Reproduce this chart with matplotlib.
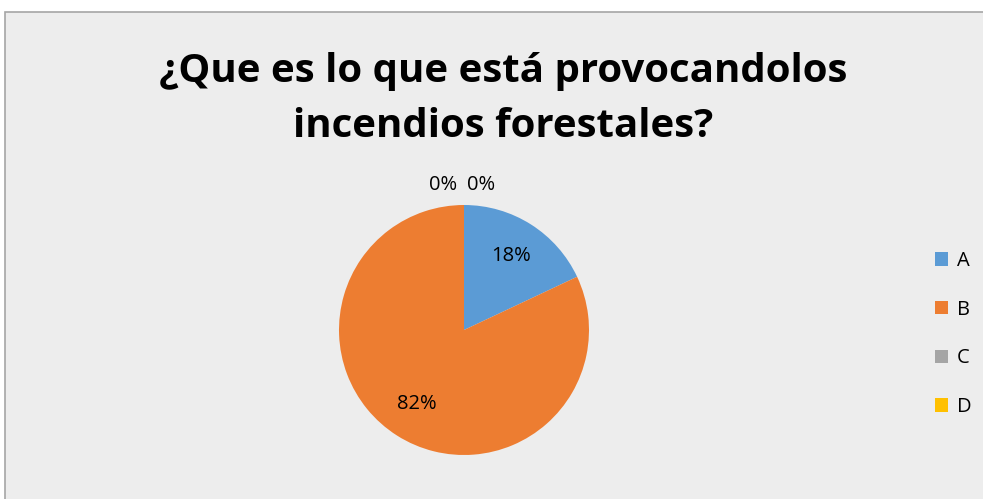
import matplotlib.pyplot as plt
from matplotlib.patches import Rectangle, Patch
import numpy as np

categories = ['A', 'B', 'C', 'D']
values = [18, 82, 0, 0]
colors = ['#5B9BD5', '#ED7D31', '#A5A5A5', '#FFC000']
title_lines = ['¿Que es lo que está provocandolos', 'incendios forestales?']

plt.rcParams['font.family'] = ['Open Sans', 'DejaVu Sans']

W, H = 983, 499
fig = plt.figure(figsize=(W / 100, H / 100), dpi=100)
fig.patch.set_facecolor('white')
# chart area frame
fig.patches.append(Rectangle((5 / W, -0.05), 1.0, 1.05 - 12 / H, transform=fig.transFigure,
                             facecolor='#EDEDED', edgecolor='#A6A6A6', linewidth=1.2, zorder=-5))

# title, two lines placed by baseline
for line, base in zip(title_lines, [82, 137]):
    fig.text(503 / W, 1 - base / H, line, ha='center', va='baseline', fontsize=29,
             fontweight='bold', color='black')

# pie axes: center (464, 330), radius ~125 px
r = 125
ax = fig.add_axes([(464 - r) / W, (H - 330 - r) / H, 2 * r / W, 2 * r / H])
ax.set_zorder(2)
ax.set_facecolor('none')
wedges, _ = ax.pie(values, colors=colors, startangle=90, counterclock=False,
                   radius=1.0, wedgeprops=dict(linewidth=0))
ax.set_xlim(-1, 1)
ax.set_ylim(-1, 1)

total = sum(values)
cum = 0
zero_off = [-0.17, 0.14]
zero_idx = 0
for v in values:
    mid = 90 - (cum + v / 2) / total * 360
    cum += v
    if v > 0:
        d = 0.70
        ax.text(d * np.cos(np.radians(mid)), d * np.sin(np.radians(mid)), f'{v:.0f}%',
                ha='center', va='center', fontsize=14.5, color='black')
    else:
        ax.text(zero_off[zero_idx], 1.16, f'{v:.0f}%', ha='center', va='center',
                fontsize=14.5, color='black', clip_on=False)
        zero_idx += 1

handles = [Patch(facecolor=c, edgecolor='none') for c in colors]
fig.legend(handles, categories, loc='center left', bbox_to_anchor=(925 / W, 1 - 334 / H),
           frameon=False, fontsize=14.5, handlelength=0.65, handleheight=0.65,
           labelspacing=1.42, handletextpad=0.45, borderpad=0)

fig.savefig('out.png', dpi=100, facecolor=fig.get_facecolor())
